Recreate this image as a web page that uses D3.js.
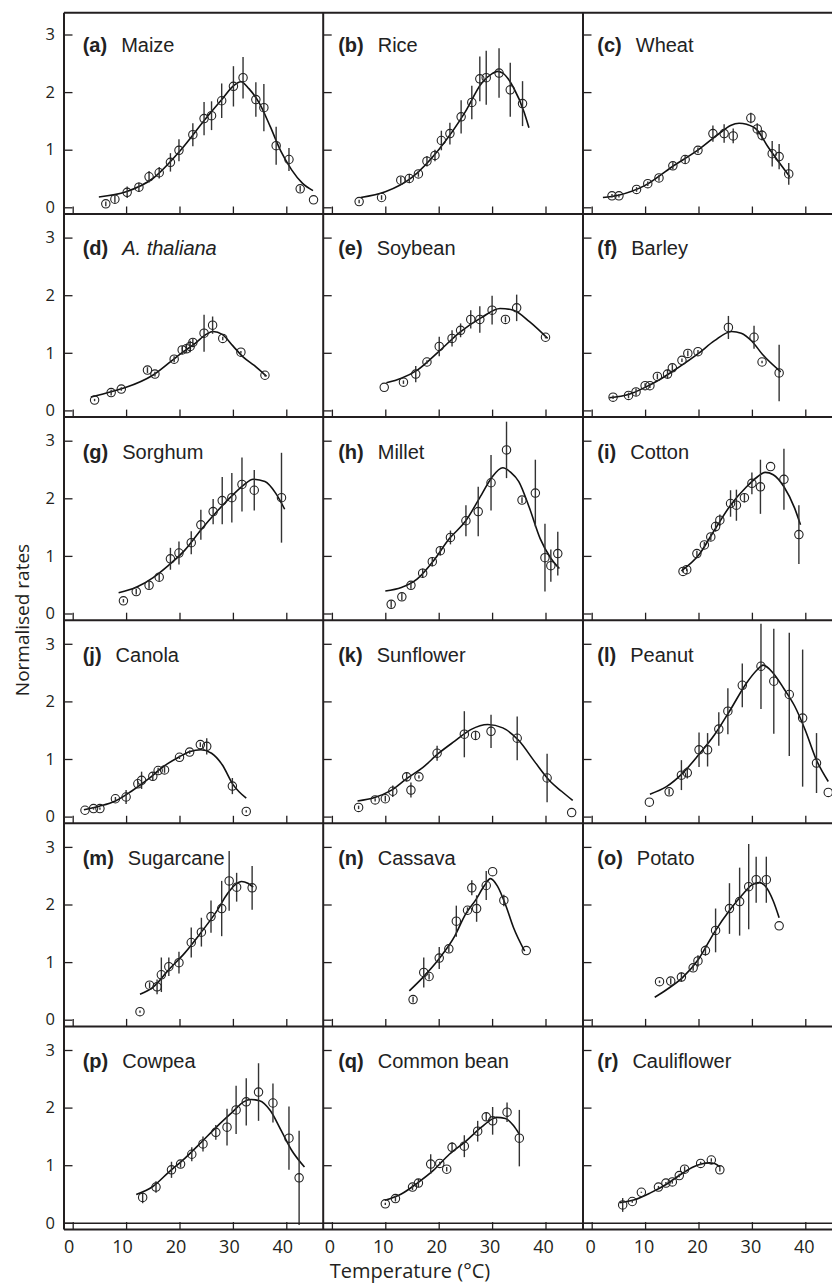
<!DOCTYPE html>
<html><head><meta charset="utf-8">
<script src="https://cdn.jsdelivr.net/npm/d3@7"></script>
<style>body{margin:0;background:#fff} svg{display:block}</style>
</head><body><svg id="c" width="832" height="1284"></svg>
<script>
// ---- data: [temperature, normalised rate, error] for points; [temperature, rate] for fitted curves
const xTicks = [0, 10, 20, 30, 40];
const yTicks = [0, 1, 2, 3];
const panelTags = ["(a)","(b)","(c)","(d)","(e)","(f)","(g)","(h)","(i)","(j)","(k)","(l)","(m)","(n)","(o)","(p)","(q)","(r)"];
const cropNames = ["Maize","Rice","Wheat","A. thaliana","Soybean","Barley","Sorghum","Millet","Cotton","Canola","Sunflower","Peanut","Sugarcane","Cassava","Potato","Cowpea","Common bean","Cauliflower"];

const maizePts = [[6.2,0.06,0.04],[7.9,0.14,0.06],[10.2,0.26,0.1],[12.4,0.35,0.08],[14.3,0.53,0.1],[16.2,0.60,0.1],[18.3,0.78,0.16],[19.9,0.99,0.19],[22.5,1.26,0.2],[24.6,1.54,0.29],[26.0,1.59,0.25],[27.9,1.85,0.3],[30.1,2.10,0.35],[31.9,2.25,0.36],[34.3,1.87,0.3],[35.8,1.73,0.41],[38.1,1.07,0.33],[40.5,0.83,0.2],[42.6,0.32,0.05],[45.1,0.13,0]];
const maizeFit = [[4.9,0.18],[10,0.27],[15,0.5],[20,0.97],[25,1.55],[28,1.88],[30,2.1],[31.5,2.18],[33,2.06],[35,1.8],[37,1.4],[39,0.97],[41,0.65],[43,0.42],[45,0.29]];

const ricePts = [[5.1,0.10,0.03],[9.3,0.17,0.04],[12.9,0.47,0.06],[14.5,0.50,0.08],[16.2,0.58,0.05],[17.8,0.80,0.09],[19.3,0.90,0.1],[20.5,1.16,0.17],[22.1,1.28,0.19],[24.2,1.57,0.29],[26.2,1.82,0.29],[27.7,2.23,0.39],[28.9,2.25,0.47],[31.3,2.33,0.43],[33.4,2.04,0.47],[35.7,1.80,0.39]];
const riceFit = [[5.4,0.17],[10,0.27],[15,0.52],[20,1.0],[25,1.66],[28,2.15],[30,2.32],[31,2.36],[32,2.33],[34,2.08],[36,1.65],[36.9,1.38]];

const wheatPts = [[3.8,0.20,0.03],[5.1,0.20,0.03],[8.4,0.31,0.04],[10.5,0.41,0.04],[12.6,0.51,0.05],[15.2,0.72,0.06],[17.5,0.83,0.08],[19.9,0.99,0.05],[22.7,1.28,0.14],[24.8,1.28,0.16],[26.5,1.24,0.13],[29.8,1.55,0.09],[31.0,1.36,0.1],[31.9,1.25,0.09],[33.8,0.93,0.22],[35.1,0.88,0.22],[36.9,0.58,0.19]];
const wheatFit = [[2.1,0.17],[5,0.21],[10,0.38],[15,0.7],[20,1.0],[24,1.29],[26,1.42],[27.6,1.46],[29,1.44],[31,1.34],[33,1.05],[35,0.79],[37.1,0.53]];

const thalianaPts = [[4.1,0.18,0.02],[7.2,0.31,0.05],[9.1,0.37,0.03],[14.0,0.70,0.05],[15.4,0.63,0.04],[19.0,0.89,0.05],[20.5,1.05,0.07],[21.3,1.07,0.07],[22.0,1.11,0.1],[22.5,1.18,0.07],[24.6,1.34,0.32],[26.2,1.48,0.15],[28.1,1.25,0.03],[31.5,1.01,0.02],[36.0,0.61,0.02]];
const thalianaFit = [[3.4,0.23],[7,0.32],[10,0.4],[15,0.61],[20,0.97],[23,1.17],[25,1.32],[26.3,1.37],[28,1.32],[30,1.12],[32,0.92],[34,0.78],[36.3,0.59]];

const soybeanPts = [[9.8,0.40,0],[13.4,0.49,0.03],[15.7,0.63,0.14],[17.8,0.84,0.03],[20.1,1.11,0.17],[22.5,1.25,0.14],[24.1,1.39,0.12],[26.0,1.58,0.16],[27.7,1.58,0.23],[30.0,1.74,0.25],[32.5,1.58,0.05],[34.6,1.78,0.23],[40.0,1.27,0.02]];
const soybeanFit = [[10.2,0.48],[13,0.56],[16,0.7],[20,1.02],[24,1.36],[28,1.61],[31.5,1.77],[34,1.74],[37,1.54],[40.4,1.25]];

const barleyPts = [[4.0,0.23,0.03],[6.9,0.26,0.05],[8.3,0.32,0.06],[10.0,0.43,0.04],[10.9,0.43,0.04],[12.3,0.59,0.05],[14.2,0.63,0.08],[15.1,0.74,0.06],[16.9,0.87,0.03],[18.0,0.99,0.05],[19.9,1.02,0.03],[25.6,1.44,0.2],[30.4,1.27,0.2],[31.9,0.84,0.02],[35.1,0.65,0.49]];
const barleyFit = [[3.3,0.22],[7,0.28],[10,0.4],[13,0.55],[16,0.73],[20,0.99],[23,1.21],[26.2,1.37],[28,1.34],[30,1.2],[32,0.97],[35.4,0.67]];

const sorghumPts = [[9.5,0.22,0.03],[11.9,0.38,0.05],[14.3,0.49,0.06],[16.2,0.63,0.06],[18.3,0.95,0.19],[19.9,1.05,0.2],[22.2,1.23,0.2],[24.0,1.54,0.26],[26.3,1.77,0.22],[28.0,1.96,0.41],[29.8,2.01,0.43],[31.7,2.24,0.47],[34.0,2.14,0.35],[39.1,2.01,0.78]];
const sorghumFit = [[8.6,0.36],[12,0.46],[15,0.62],[18,0.84],[21,1.1],[24,1.45],[27,1.77],[30,2.06],[32,2.23],[33.8,2.33],[36,2.29],[38,2.09],[39.7,1.81]];

const milletPts = [[11.1,0.16,0.06],[13.1,0.29,0.06],[14.8,0.49,0.06],[17.0,0.70,0.08],[18.8,0.90,0.08],[20.3,1.09,0.08],[22.2,1.32,0.12],[25.1,1.61,0.27],[27.4,1.77,0.43],[29.8,2.27,0.48],[32.7,2.84,0.49],[35.6,1.97,0.05],[38.1,2.09,0.58],[39.9,0.97,0.59],[41.0,0.83,0.28],[42.3,1.04,0.38]];
const milletFit = [[10,0.39],[13,0.45],[16,0.6],[19,0.91],[22,1.3],[25,1.6],[28,2.06],[30,2.37],[32,2.53],[33.5,2.45],[35,2.29],[37,1.83],[39,1.3],[41,0.96],[42.6,0.78]];

const cottonPts = [[17.1,0.73,0.02],[17.8,0.76,0.02],[19.7,1.04,0.05],[21.1,1.19,0.05],[22.3,1.33,0.06],[23.2,1.51,0.09],[24.0,1.62,0.1],[26.0,1.91,0.23],[27.1,1.88,0.27],[28.6,2.01,0.08],[30.0,2.26,0.19],[31.6,2.20,0.47],[33.5,2.55,0],[36.0,2.33,0.53],[38.8,1.37,0.51]];
const cottonFit = [[16.8,0.74],[20,1.01],[23,1.45],[26,1.88],[29,2.2],[31,2.37],[32.5,2.45],[34,2.41],[36,2.2],[38,1.83],[39.1,1.54]];

const canolaPts = [[2.3,0.11,0],[3.9,0.14,0.02],[5.1,0.14,0.02],[8.0,0.31,0.03],[10.0,0.34,0.12],[12.2,0.57,0.05],[12.9,0.63,0.15],[15.0,0.70,0.07],[16.0,0.80,0.05],[17.2,0.81,0.05],[20.0,1.03,0.03],[21.9,1.12,0.03],[23.9,1.25,0.04],[25.1,1.22,0.14],[29.9,0.53,0.14],[32.5,0.09,0.02]];
const canolaFit = [[2.1,0.12],[5,0.18],[8,0.27],[11,0.44],[14,0.64],[17,0.87],[20,1.04],[22,1.13],[24,1.16],[26,1.1],[28,0.9],[30,0.56],[32.5,0.32]];

const sunflowerPts = [[5.0,0.16,0.03],[8.1,0.29,0.03],[10.0,0.31,0.05],[11.4,0.44,0.1],[14.0,0.69,0.08],[14.8,0.46,0.13],[16.3,0.69,0.03],[19.7,1.10,0.13],[24.8,1.43,0.4],[26.9,1.41,0.08],[29.8,1.48,0.29],[34.7,1.36,0.38],[40.3,0.67,0.42],[44.9,0.07,0]];
const sunflowerFit = [[4.8,0.27],[8,0.33],[11,0.45],[14,0.66],[17,0.85],[20,1.1],[23,1.31],[26,1.51],[29.2,1.6],[32,1.54],[35,1.32],[38,0.95],[41,0.6],[43,0.44],[45.1,0.28]];

const peanutPts = [[10.8,0.25,0],[14.5,0.43,0.05],[16.8,0.72,0.26],[17.9,0.76,0.1],[20.1,1.16,0.3],[21.7,1.16,0.29],[23.8,1.52,0.29],[25.5,1.83,0.4],[28.2,2.28,0.38],[31.7,2.61,0.74],[34.1,2.35,0.91],[37.0,2.12,1.07],[39.5,1.71,1.19],[42.1,0.93,0.52],[44.3,0.42,0]];
const peanutFit = [[10.9,0.39],[14,0.52],[17,0.75],[20,1.07],[23,1.42],[26,1.86],[29,2.32],[31,2.55],[32.1,2.63],[34,2.49],[36,2.22],[38,1.92],[40,1.5],[42,1.0],[44.3,0.61]];

const sugarcanePts = [[12.6,0.14,0.02],[14.4,0.60,0.05],[15.8,0.57,0.13],[16.6,0.78,0.3],[18.0,0.92,0.16],[19.9,0.99,0.19],[22.2,1.34,0.26],[24.1,1.52,0.25],[25.9,1.79,0.28],[27.9,1.93,0.48],[29.3,2.41,0.52],[30.7,2.30,0.25],[33.6,2.29,0.38]];
const sugarcaneFit = [[12.6,0.44],[15,0.56],[18,0.87],[21,1.16],[24,1.51],[27,1.89],[29,2.19],[30.5,2.35],[31.6,2.4],[32.8,2.37],[33.8,2.3]];

const cassavaPts = [[15.2,0.35,0.05],[17.2,0.82,0.26],[18.2,0.75,0.05],[20.1,1.07,0.19],[21.9,1.23,0.06],[23.3,1.71,0.27],[25.4,1.90,0.05],[26.2,2.29,0.13],[27.1,1.93,0.23],[28.9,2.33,0.25],[30.1,2.57,0],[32.2,2.07,0.1],[36.4,1.20,0]];
const cassavaFit = [[14.5,0.5],[17,0.73],[20,1.05],[23,1.45],[25,1.83],[27,2.09],[28.5,2.32],[29.7,2.45],[31,2.32],[32.5,2.0],[34,1.6],[36.1,1.19]];

const potatoPts = [[12.7,0.66,0.02],[14.8,0.67,0.05],[16.8,0.74,0.08],[19.0,0.90,0.05],[19.9,1.02,0.1],[21.3,1.20,0.09],[23.2,1.55,0.38],[25.8,1.93,0.44],[27.7,2.05,0.59],[29.4,2.31,0.74],[30.8,2.43,0.4],[32.7,2.43,0.4],[35.1,1.63,0]];
const potatoFit = [[11.8,0.39],[14,0.52],[17,0.73],[20,1.05],[23,1.52],[26,1.92],[28.5,2.2],[30,2.34],[31.4,2.38],[32.5,2.32],[34,2.06],[35.1,1.77]];

const cowpeaPts = [[13.1,0.44,0.1],[15.6,0.62,0.1],[18.5,0.92,0.14],[20.2,1.02,0.06],[22.3,1.19,0.12],[24.4,1.37,0.13],[26.8,1.57,0.13],[28.9,1.66,0.32],[30.6,1.96,0.42],[32.5,2.10,0.41],[34.8,2.27,0.5],[37.5,2.08,0.34],[40.5,1.47,0.55],[42.4,0.78,0.82]];
const cowpeaFit = [[11.9,0.49],[15,0.63],[18,0.88],[21,1.12],[24,1.39],[27,1.67],[30,1.93],[32,2.1],[33.4,2.14],[35,2.12],[37,1.95],[39,1.61],[41,1.26],[43.4,0.97]];

const beanPts = [[10.0,0.33,0.02],[11.9,0.42,0.05],[15.1,0.62,0.05],[16.2,0.69,0.07],[18.5,1.02,0.17],[20.2,1.03,0.03],[21.5,0.93,0.04],[22.5,1.31,0.09],[24.8,1.33,0.19],[27.3,1.59,0.18],[28.9,1.84,0.07],[30.1,1.77,0.24],[32.8,1.92,0.17],[35.1,1.47,0.49]];
const beanFit = [[9.9,0.39],[13,0.5],[16,0.69],[19,0.91],[22,1.19],[25,1.41],[28,1.66],[30,1.8],[30.8,1.83],[32.5,1.81],[34,1.69],[35.1,1.54]];

const caulifPts = [[5.8,0.31,0.12],[7.6,0.37,0.02],[9.3,0.53,0.01],[12.5,0.62,0.02],[13.9,0.69,0.02],[15.1,0.71,0.03],[16.4,0.82,0.03],[17.4,0.93,0.05],[20.4,1.03,0.03],[22.4,1.09,0.03],[24.0,0.92,0.03]];
const caulifFit = [[5.2,0.35],[8,0.4],[11,0.52],[14,0.67],[17,0.86],[19,0.97],[20.5,1.02],[22,1.04],[23,1.03],[24.1,0.96]];

const allPts = [maizePts,ricePts,wheatPts,thalianaPts,soybeanPts,barleyPts,sorghumPts,milletPts,cottonPts,canolaPts,sunflowerPts,peanutPts,sugarcanePts,cassavaPts,potatoPts,cowpeaPts,beanPts,caulifPts];
const allFits = [maizeFit,riceFit,wheatFit,thalianaFit,soybeanFit,barleyFit,sorghumFit,milletFit,cottonFit,canolaFit,sunflowerFit,peanutFit,sugarcaneFit,cassavaFit,potatoFit,cowpeaFit,beanFit,caulifFit];

// ---- layout
const svg = d3.select('#c');
const INK = '#231f20';
const colLeft = [64, 323.2, 583];
const topY = 12.7, rowStep = 203.1, firstBottom = 214;
const rowBottom = r => firstBottom + rowStep * r;
const labelOff = [18.7, 15, 14.3];
const tickLabelShift = [-4, -2.5, -1.5];
const nRows = 6;

const gMarks = svg.append('g');
const gFrame = svg.append('g');

allPts.forEach((pts, i) => {
  const c = i % 3, r = Math.floor(i / 3);
  const xL = colLeft[c], yB = rowBottom(r);
  const x = d3.scaleLinear().domain([0, 40]).range([xL + 8.7, xL + 8.7 + 213.6]);
  const y = d3.scaleLinear().domain([0, 3]).range([yB - 6.7, yB - 6.7 - 172.8]);
  const g = gMarks.append('g');

  // axes (ticks inward)
  const ax = g.append('g').attr('transform', `translate(0,${yB})`)
    .call(d3.axisBottom(x).tickValues(xTicks).tickSizeInner(-7.5).tickSizeOuter(0).tickPadding(11)
      .tickFormat(r === nRows - 1 ? d3.format('d') : () => ''));
  ax.select('.domain').remove();
  ax.selectAll('.tick line').attr('stroke', INK).attr('stroke-width', 1.3);
  ax.selectAll('.tick text').attr('font-family', '"Open Sans", sans-serif').attr('font-size', 18)
    .attr('fill', INK).attr('dx', tickLabelShift[c]);

  const ay = g.append('g').attr('transform', `translate(${xL},0)`)
    .call(d3.axisLeft(y).tickValues(yTicks).tickSizeInner(-8.5).tickSizeOuter(0).tickPadding(9)
      .tickFormat(c === 0 ? d3.format('d') : () => ''));
  ay.select('.domain').remove();
  ay.selectAll('.tick line').attr('stroke', INK).attr('stroke-width', 1.3);
  ay.selectAll('.tick text').attr('font-family', '"Open Sans", sans-serif').attr('font-size', 16.5).attr('fill', INK);

  // fitted curve
  g.append('path').datum(allFits[i])
    .attr('d', d3.line().x(d => x(d[0])).y(d => y(d[1])).curve(d3.curveMonotoneX))
    .attr('fill', 'none').attr('stroke', '#111').attr('stroke-width', 1.6);

  // error bars
  g.selectAll('line.err').data(pts.filter(d => d[2] > 0)).join('line').attr('class', 'err')
    .attr('x1', d => x(d[0])).attr('x2', d => x(d[0]))
    .attr('y1', d => y(d[1] - d[2])).attr('y2', d => y(d[1] + d[2]))
    .attr('stroke', '#333').attr('stroke-width', 1.4);

  // points
  g.selectAll('circle').data(pts).join('circle')
    .attr('cx', d => x(d[0])).attr('cy', d => y(d[1])).attr('r', 4.2)
    .attr('fill', 'none').attr('stroke', '#222').attr('stroke-width', 1.1);

  // panel label
  const t = g.append('text').attr('x', xL + labelOff[c]).attr('y', y(0) - 155)
    .attr('font-family', '"Liberation Sans", Arial, sans-serif').attr('font-size', 20).attr('fill', '#222');
  t.append('tspan').attr('font-weight', 'bold').text(panelTags[i]);
  t.append('tspan').attr('dx', 14).attr('font-style', i === 3 ? 'italic' : 'normal').text(cropNames[i]);
});

// frame lines
const right = 832;
const hLine = (yy, w) => gFrame.append('line').attr('x1', colLeft[0]).attr('x2', right).attr('y1', yy).attr('y2', yy)
  .attr('stroke', INK).attr('stroke-width', w);
hLine(topY, 2);
for (let r = 0; r < nRows; r++) hLine(rowBottom(r), 2);
hLine(rowBottom(nRows - 1) - 6.2, 1.4);
colLeft.forEach(xx => gFrame.append('line').attr('x1', xx).attr('x2', xx).attr('y1', topY).attr('y2', rowBottom(nRows - 1))
  .attr('stroke', INK).attr('stroke-width', 2));

// axis titles
svg.append('text').attr('x', 410).attr('y', 1278).attr('text-anchor', 'middle')
  .attr('font-family', '"Open Sans", sans-serif').attr('font-size', 20).attr('fill', INK).text('Temperature (°C)');
svg.append('text').attr('transform', 'translate(29,620) rotate(-90)').attr('text-anchor', 'middle')
  .attr('font-family', '"Open Sans", sans-serif').attr('font-size', 19).attr('fill', INK).text('Normalised rates');
</script></body></html>
